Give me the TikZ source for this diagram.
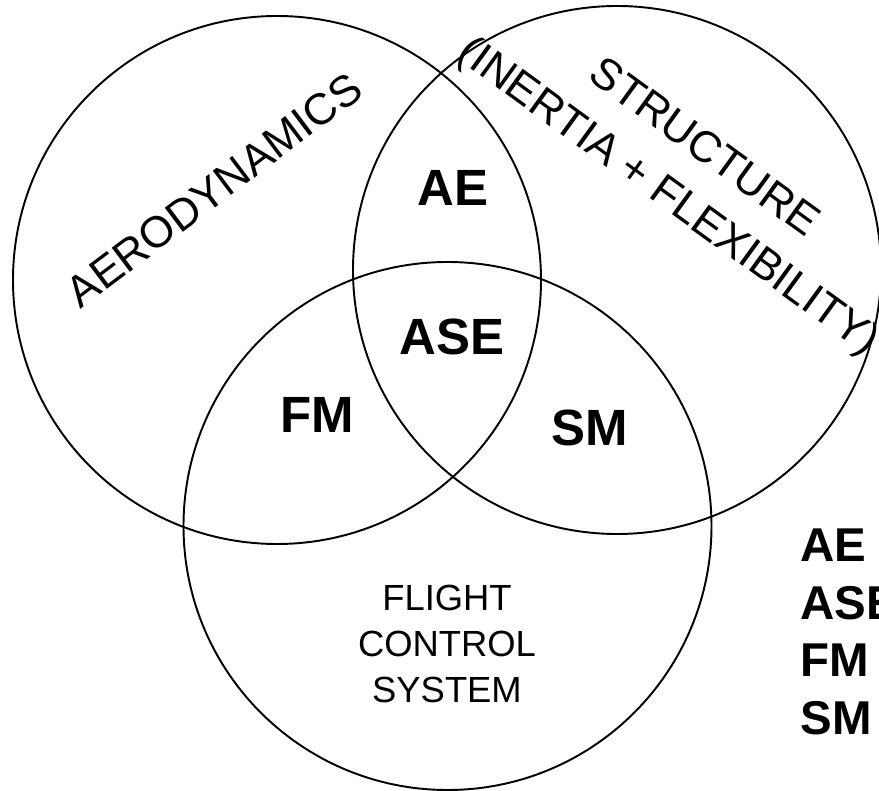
\documentclass[tikz,border=0pt]{standalone}
\usepackage{fontspec}
\setmainfont{Liberation Sans}
\usepackage{tikz}
\usetikzlibrary{shapes.geometric, positioning}

\begin{document}
\begin{tikzpicture}[
  ring/.style={draw, circle, line width=1.1pt, minimum size=10.56cm, inner sep=0pt},
  field/.style={font=\fontsize{25}{34}\selectfont, align=center, inner sep=0pt},
  fcs/.style={font=\fontsize{20.7}{26}\selectfont, align=center, inner sep=0pt},
  overlap/.style={font=\fontsize{29}{34}\selectfont\bfseries, inner sep=0pt},
  legend/.style={font=\fontsize{27}{32.7}\selectfont\bfseries, align=left, inner sep=0pt}
]
\useasboundingbox (0,0) rectangle (17.58,15.82);
\node[ring] (aero)   at (5.54,10.22) {};
\node[ring] (struct) at (12.34,10.42) {};
\node[ring] (flight) at (8.95,5.30)  {};
\node[field, rotate=37]  (aerolbl)   at (4.28,12.02)  {AERODYNAMICS};
\node[field, rotate=-36] (structlbl) at (13.70,12.34) {STRUCTURE\\(INERTIA + FLEXIBILITY)};
\node[fcs] (fcslbl) at (8.94,2.94) {FLIGHT\\CONTROL\\SYSTEM};
\node[overlap] (ae)  at (9.06,12.06) {AE};
\node[overlap] (ase) at (9.04,9.08)  {ASE};
\node[overlap] (fm)  at (6.34,7.52)  {FM};
\node[overlap] (sm)  at (11.80,7.26) {SM};
\node[legend, anchor=north west] (key) at (16.0,5.24) {AE\\ASE\\FM\\SM};
\end{tikzpicture}
\end{document}
